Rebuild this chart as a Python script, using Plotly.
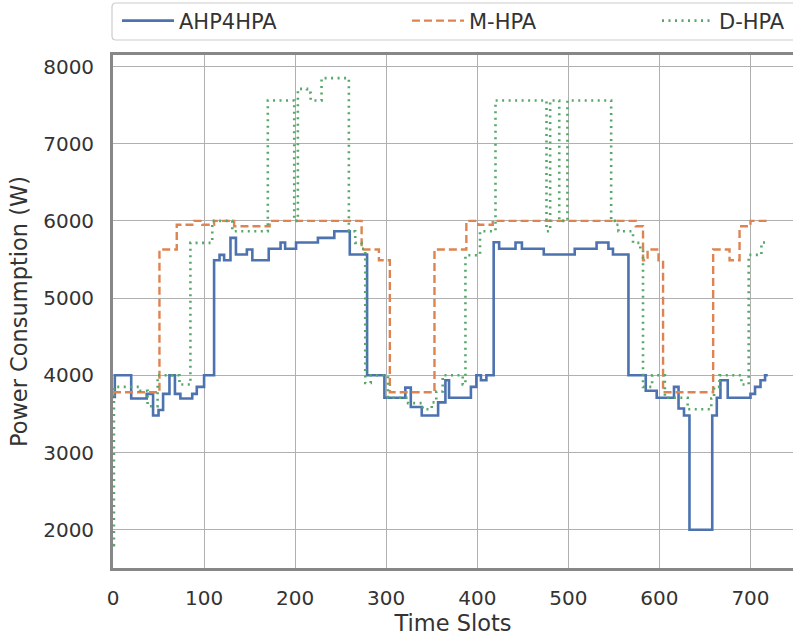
import plotly.graph_objects as go

# ---- data: step segments (start slot, value) ----
ahp_starts = [0, 2, 20, 37, 44, 50, 55, 62, 68, 74, 87, 92, 100, 111, 117, 122, 129, 135, 147, 153,
              171, 184, 189, 201, 225, 243, 260, 279, 298, 321, 327, 339, 357, 365, 369, 393, 399, 404,
              410, 418, 424, 442, 449, 473, 507, 531, 544, 549, 566, 585, 597, 616, 621, 627, 633, 658,
              663, 667, 675, 700, 705, 711, 716]
ahp_values = [3720, 4000, 3700, 3760, 3480, 3550, 3760, 4000, 3760, 3700, 3760, 3850, 4000, 5490, 5560, 5490,
              5780, 5565, 5630, 5490, 5640, 5720, 5640, 5720, 5780, 5866, 5565, 4000, 3710, 3840, 3590, 3480,
              3650, 3935, 3710, 3850, 4000, 3935, 4000, 5724, 5640, 5720, 5640, 5565, 5640, 5720, 5640, 5565,
              4000, 3800, 3710, 3850, 3570, 3480, 2000, 3480, 3710, 3935, 3710, 3760, 3850, 3935, 4000]

mhpa_starts = [0, 51, 70, 89, 98, 111, 133, 172, 273, 292, 304, 353, 388, 401, 417, 574, 582, 587, 599,
               604, 659, 677, 688, 700]
mhpa_values = [3780, 5630, 5950, 6000, 5950, 6000, 5930, 6000, 5630, 5490, 3780, 5630, 6000, 5950, 6000,
               5930, 5490, 5630, 5490, 3780, 5630, 5490, 5930, 6000]

dhpa_starts = [0, 1, 29, 38, 49, 73, 85, 109, 131, 170, 199, 203, 213, 217, 229, 259, 266, 273, 277, 283,
               302, 324, 340, 350, 355, 362, 384, 387, 403, 420, 476, 480, 490, 499, 547, 551, 555, 571,
               579, 582, 592, 606, 631, 657, 660, 666, 690, 698, 712]
dhpa_values = [1800, 3850, 3800, 3600, 4000, 3880, 5716, 6000, 5866, 7560, 6000, 7710, 7660, 7560, 7850,
               5866, 5716, 5640, 3900, 4000, 3710, 3640, 3560, 3650, 3790, 4000, 3880, 5556, 5866, 7560,
               5866, 7560, 6000, 7560, 6000, 5950, 5866, 5716, 5640, 3850, 4000, 3710, 3560, 3700, 3850,
               4000, 3880, 5560, 5720]
last_slot = 719

series_names = ["AHP4HPA", "M-HPA", "D-HPA"]
x_ticks = [0, 100, 200, 300, 400, 500, 600, 700]
y_ticks = [2000, 3000, 4000, 5000, 6000, 7000, 8000]

colors = ["#4C72B0", "#DD8452", "#55A868"]
dashes = ["solid", "8px,4px", "2px,4.5px"]
widths = [2.6, 2.4, 2.6]

FONT = "DejaVu Sans"
TXT = "#333333"
W, H = 793, 639
ML, MR, MT, MB = 113, 0, 55, 71
PW, PH = W - ML - MR, H - MT - MB


def px2paper_x(px):
    return (px - ML) / PW


def py2paper_y(py):
    return 1 + (MT - py) / PH


fig = go.Figure()
all_series = [(ahp_starts, ahp_values), (mhpa_starts, mhpa_values), (dhpa_starts, dhpa_values)]
legend_ids = ["legend", "legend2", "legend3"]
for i, (st, vals) in enumerate(all_series):
    xs = list(st) + [last_slot]
    ys = list(vals) + [vals[-1]]
    fig.add_trace(go.Scatter(
        x=xs, y=ys, mode="lines", name=series_names[i], line_shape="hv",
        line=dict(color=colors[i], width=widths[i], dash=dashes[i]),
        legend=legend_ids[i],
    ))

axis_common = dict(
    showgrid=True, gridcolor="#b0b0b0", gridwidth=1.2,
    showline=True, linecolor="#878787", linewidth=2.8,
    ticks="", zeroline=False,
    tickfont=dict(family=FONT, size=20, color=TXT),
)
fig.update_xaxes(range=[0, PW / 0.9107], tickvals=x_ticks, mirror=True, ticklabelstandoff=10,
                 title=dict(text="Time Slots", font=dict(family=FONT, size=22.5, color=TXT), standoff=6),
                 **axis_common)
fig.update_yaxes(range=[1504, 8149], tickvals=y_ticks, ticklabelstandoff=12,
                 title=dict(text="Power Consumption (W)", font=dict(family=FONT, size=22.5, color=TXT), standoff=10),
                 **axis_common)

leg_px = [117, 407, 657]
legend_cfg = {}
for lid, px in zip(legend_ids, leg_px):
    legend_cfg[lid] = dict(
        x=px2paper_x(px), xanchor="left", y=py2paper_y(21), yanchor="middle",
        orientation="h", bgcolor="rgba(0,0,0,0)", borderwidth=0,
        font=dict(family=FONT, size=21, color=TXT), itemwidth=52,
    )

# rounded legend frame
x0, x1 = px2paper_x(112), px2paper_x(805)
y0, y1 = py2paper_y(40), py2paper_y(3)
rx, ry = 4 / PW, 4 / PH
path = (f"M{x0+rx},{y1} L{x1-rx},{y1} Q{x1},{y1} {x1},{y1-ry} L{x1},{y0+ry} Q{x1},{y0} {x1-rx},{y0} "
        f"L{x0+rx},{y0} Q{x0},{y0} {x0},{y0+ry} L{x0},{y1-ry} Q{x0},{y1} {x0+rx},{y1} Z")
fig.add_shape(type="path", path=path, xref="paper", yref="paper",
              line=dict(color="#cccccc", width=1.2), fillcolor="rgba(255,255,255,0.8)", layer="above")

fig.update_layout(
    width=W, height=H, margin=dict(l=ML, r=MR, t=MT, b=MB),
    plot_bgcolor="white", paper_bgcolor="white",
    font=dict(family=FONT, color=TXT),
    showlegend=True,
    **legend_cfg,
)

fig.write_html("out.html")
